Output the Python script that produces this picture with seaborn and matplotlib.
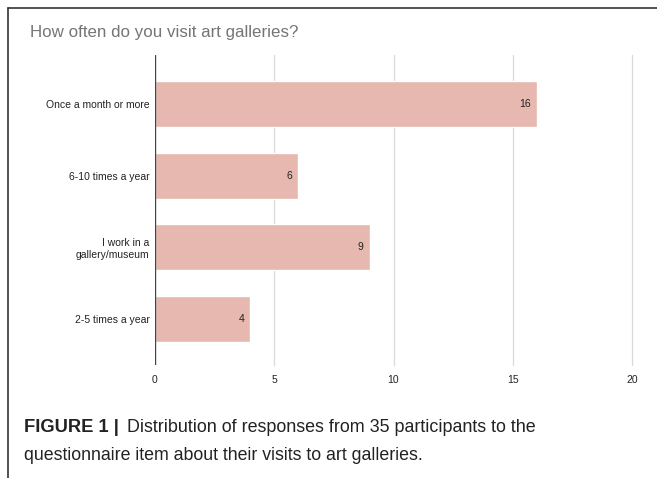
import pandas as pd
import matplotlib.pyplot as plt
import seaborn as sns
from matplotlib.lines import Line2D

categories = ['Once a month or more', '6-10 times a year',
              'I work in a\ngallery/museum', '2-5 times a year']
counts = [16, 6, 9, 4]
xticks = [0, 5, 10, 15, 20]

df = pd.DataFrame({'answer': categories, 'count': counts})

sns.set_theme(style='white')
plt.rcParams['font.family'] = ['Liberation Sans', 'DejaVu Sans']

fig = plt.figure(figsize=(6.57, 4.78), dpi=100)
ax = fig.add_axes([155 / 657, 1 - 365 / 478, (632 - 155) / 657, (365 - 55) / 478])

sns.barplot(data=df, x='count', y='answer', color='#e6b8af', saturation=1,
            width=0.64, ax=ax, zorder=3)

ax.set_xlim(0, 20)
ax.set_ylim(3.64, -0.68)
ax.set_xticks(xticks)
ax.set_xticklabels([str(t) for t in xticks], fontsize=7.5, color='#222222')
ax.tick_params(axis='x', length=0, pad=7)
ax.tick_params(axis='y', length=0, pad=4, labelsize=7.5, labelcolor='#222222')
ax.set_xlabel('')
ax.set_ylabel('')
for s in ax.spines.values():
    s.set_visible(False)
for t in xticks[1:]:
    ax.axvline(t, color='#d9d9d9', linewidth=0.9, zorder=0, clip_on=False)
ax.axvline(0, color='#444444', linewidth=1.0, zorder=4)

for i, v in enumerate(counts):
    ax.text(v - 0.25, i, str(v), ha='right', va='center', fontsize=7.5,
            color='#222222', zorder=5)

fig.text(30 / 657, 1 - 33 / 478, 'How often do you visit art galleries?',
         fontsize=12.2, color='#757575', va='center', ha='left')

# frame around the figure panel
fig.add_artist(Line2D([8 / 657, 1], [1 - 8 / 478, 1 - 8 / 478],
                      transform=fig.transFigure, color='#333333', linewidth=1.2))
fig.add_artist(Line2D([8 / 657, 8 / 657], [0, 1 - 8 / 478],
                      transform=fig.transFigure, color='#333333', linewidth=1.2))

fig.text(24 / 657, 1 - 428 / 478, 'FIGURE 1 |', fontsize=13.2, fontweight='bold',
         color='#222222', va='center', ha='left')
fig.text(127 / 657, 1 - 428 / 478,
         'Distribution of responses from 35 participants to the',
         fontsize=12.85, color='#222222', va='center', ha='left')
fig.text(24 / 657, 1 - 455 / 478,
         'questionnaire item about their visits to art galleries.',
         fontsize=12.75, color='#222222', va='center', ha='left')

fig.savefig('out.png', dpi=100)
